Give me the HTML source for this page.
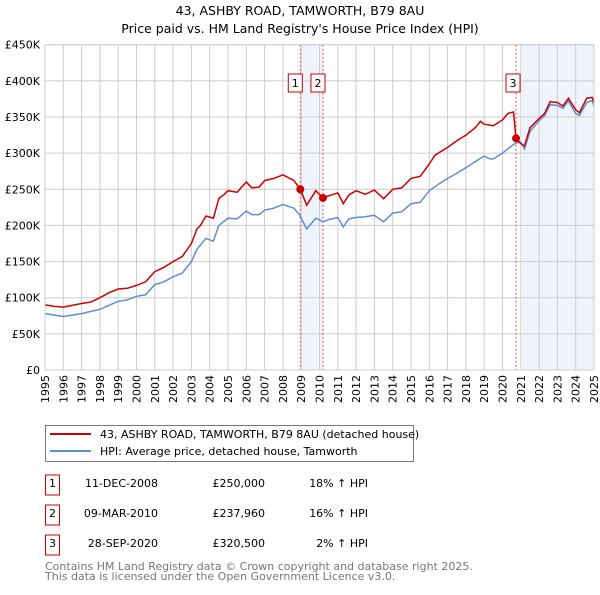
<!DOCTYPE html>
<html><head><meta charset="utf-8"><style>
body{margin:0;background:#fff;font-family:"Liberation Sans","DejaVu Sans",sans-serif;}
svg text{font-family:"DejaVu Sans","Liberation Sans",sans-serif;}
</style></head><body>
<svg id="c" width="600" height="590" xmlns="http://www.w3.org/2000/svg">
<text x="300" y="15" text-anchor="middle" font-size="12.5">43, ASHBY ROAD, TAMWORTH, B79 8AU</text>
<text x="300" y="33" text-anchor="middle" font-size="12.5">Price paid vs. HM Land Registry's House Price Index (HPI)</text>
<g id="plot"></g>
<g>
<rect x="45.5" y="425.5" width="368" height="36" fill="#fff" stroke="#777"/>
<line x1="50" y1="434" x2="91" y2="434" stroke="#cc0000" stroke-width="2"/>
<text x="100" y="438" font-size="11">43, ASHBY ROAD, TAMWORTH, B79 8AU (detached house)</text>
<line x1="50" y1="451" x2="91" y2="451" stroke="#5b8fd4" stroke-width="2"/>
<text x="100" y="455" font-size="11">HPI: Average price, detached house, Tamworth</text>
</g>
<g id="tbl" font-size="11"></g>
<text x="45" y="570" font-size="11" fill="#777">Contains HM Land Registry data © Crown copyright and database right 2025.</text>
<text x="45" y="580" font-size="11" fill="#777">This data is licensed under the Open Government Licence v3.0.</text>
</svg>
<script>
const redYears=[1995,1995.5,1996,1997,1997.5,1998,1998.5,1999,1999.5,2000,2000.5,2001,2001.5,2002,2002.5,2003,2003.3,2003.5,2003.8,2004.2,2004.5,2004.8,2005,2005.5,2006,2006.3,2006.7,2007,2007.5,2008,2008.3,2008.6,2008.95,2009.3,2009.8,2010.19,2010.5,2011,2011.3,2011.6,2012,2012.5,2013,2013.5,2014,2014.5,2015,2015.5,2016,2016.3,2017,2017.5,2018,2018.5,2018.8,2019,2019.5,2020,2020.3,2020.6,2020.74,2021,2021.2,2021.5,2022,2022.3,2022.6,2023,2023.3,2023.6,2024,2024.2,2024.6,2024.9,2025];
const redValues=[90,88,87,92,94,100,107,112,113,117,122,136,142,150,157,175,195,200,213,210,237,243,248,246,260,252,253,262,265,270,266,262,250,228,248,238,241,245,230,242,248,243,249,237,250,252,265,268,285,297,308,317,325,335,344,340,338,346,355,357,320,313,310,335,348,355,371,370,365,376,360,356,376,377,370];
const hpiYears=[1995,1996,1997,1998,1999,1999.5,2000,2000.5,2001,2001.5,2002,2002.5,2003,2003.3,2003.8,2004.2,2004.5,2005,2005.5,2006,2006.3,2006.7,2007,2007.5,2008,2008.6,2008.9,2009.3,2009.8,2010.2,2010.5,2011,2011.3,2011.6,2012,2012.5,2013,2013.5,2014,2014.5,2015,2015.5,2016,2016.5,2017,2017.5,2018,2018.5,2019,2019.3,2019.5,2020,2020.5,2020.74,2021,2021.2,2021.5,2022,2022.3,2022.6,2023,2023.3,2023.6,2024,2024.2,2024.6,2024.9,2025];
const hpiValues=[78,74,78,84,95,97,102,104,118,122,129,134,150,167,182,178,200,210,209,220,215,215,221,224,229,224,215,195,210,205,208,211,198,209,211,212,214,205,217,219,230,232,248,257,265,272,280,288,296,292,292,300,310,314,315,306,330,345,352,367,366,362,372,355,352,370,373,365];
const saleLabels=["1","2","3"];
const saleYears=[2008.95,2010.19,2020.74];
const salePrices=[250,237.96,320.5];
const saleDates=["11-DEC-2008","09-MAR-2010","28-SEP-2020"];
const salePriceText=["£250,000","£237,960","£320,500"];
const salePct=["18% ↑ HPI","16% ↑ HPI","2% ↑ HPI"];
const yTicks=[0,50,100,150,200,250,300,350,400,450];
const yTickLabels=["£0","£50K","£100K","£150K","£200K","£250K","£300K","£350K","£400K","£450K"];
const shadeStart=2021.07;

const X0=45,X1=594,Y0=370,Y1=44.7;
const x=y=>X0+(y-1995)/30*(X1-X0);
const yS=v=>Y0-v/450*(Y0-Y1);
const NS="http://www.w3.org/2000/svg";
const plot=document.getElementById('plot');
function mk(tag,at,par){const e=document.createElementNS(NS,tag);for(const k in at)e.setAttribute(k,at[k]);(par||plot).appendChild(e);return e;}
let r=mk('rect',{x:x(saleYears[0]),y:Y1,width:x(saleYears[1])-x(saleYears[0]),height:Y0-Y1,fill:'#eef3fc'});


r=mk('rect',{x:x(shadeStart),y:Y1,width:X1-x(shadeStart),height:Y0-Y1,fill:'#eef3fc'});


for(let yr=1995;yr<=2025;yr++){
 let l=mk('line',{x1:x(yr),x2:x(yr),y1:Y1,y2:Y0,stroke:'#ccc'});
 
 
 let t=mk('text',{x:0,y:0,transform:`translate(${x(yr)+4},${Y0+5}) rotate(-90)`,'text-anchor':'end','font-size':'11'});
 t.textContent=yr;
 
 
}
yTicks.forEach((v,i)=>{
 let l=mk('line',{x1:X0,x2:X1,y1:yS(v),y2:yS(v),stroke:'#ccc'});
 
 
 let t=mk('text',{x:X0-5,y:yS(v)+4,'text-anchor':'end','font-size':'11'});
 t.textContent=yTickLabels[i];
 
 
});
saleYears.forEach((s,i)=>{
 let l=mk('line',{x1:x(s),x2:x(s),y1:Y1,y2:Y0,stroke:'#e05050','stroke-dasharray':'2,2'});
 
 
});
const pts=(xs,vs)=>xs.map((a,i)=>x(a).toFixed(1)+','+yS(vs[i]).toFixed(1)).join(' ');
let p=mk('polyline',{points:pts(hpiYears,hpiValues),fill:'none',stroke:'#5b8fd4','stroke-width':1.5});


p=mk('polyline',{points:pts(redYears,redValues),fill:'none',stroke:'#cc0000','stroke-width':1.5});


const labelX=[-5,-5,-3];
saleYears.forEach((s,i)=>{
 let c=mk('circle',{cx:x(s),cy:yS(salePrices[i]),r:4,fill:'#cc0000'});
 
 
 let bx=x(s)+labelX[i]-7;
 let b=mk('rect',{x:bx,y:74,width:14,height:18,fill:'#fff',stroke:'#cc0000'});
 
 
 let t=mk('text',{x:bx+7,y:87,'text-anchor':'middle','font-size':'11'});
 t.textContent=saleLabels[i];
 
 
});
let ax=mk('rect',{x:X0,y:Y1,width:X1-X0,height:Y0-Y1,fill:'none',stroke:'#ccc'});


const tbl=document.getElementById('tbl');
saleLabels.forEach((s,i)=>{
 const cy=485+i*30;
 let b=mk('rect',{x:45.5,y:cy-10,width:14,height:20,fill:'#fff',stroke:'#cc0000'},tbl);
 
 
 let t=mk('text',{x:52.5,y:cy+2,'text-anchor':'middle'},tbl);t.textContent=s;
 
 
 t=mk('text',{x:158,y:cy+2,'text-anchor':'end'},tbl);t.textContent=saleDates[i];
 
 
 t=mk('text',{x:265,y:cy+2,'text-anchor':'end'},tbl);t.textContent=salePriceText[i];
 
 
 t=mk('text',{x:368,y:cy+2,'text-anchor':'end'},tbl);t.textContent=salePct[i];
 
 
});
</script>
</body></html>
